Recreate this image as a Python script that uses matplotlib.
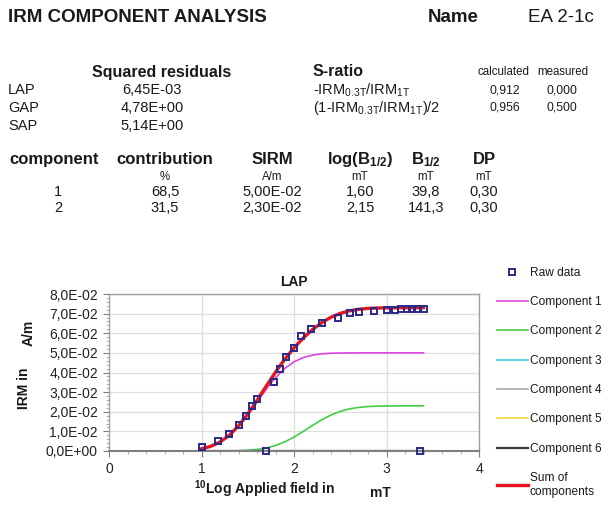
import matplotlib
matplotlib.use("Agg")
import matplotlib.pyplot as plt
from matplotlib.ticker import FixedLocator, MultipleLocator

plt.rcParams['font.family'] = ['Liberation Sans', 'DejaVu Sans']
plt.rcParams['mathtext.fontset'] = 'custom'
plt.rcParams['mathtext.rm'] = 'Liberation Sans'
plt.rcParams['mathtext.bf'] = 'Liberation Sans:bold'
plt.rcParams['mathtext.it'] = 'Liberation Sans:italic'
plt.rcParams['text.color'] = '#1a1a1a'

# ---------------- data ----------------
sample_name = "EA 2-1c"
residual_names = ["LAP", "GAP", "SAP"]
residual_values = ["6,45E-03", "4,78E+00", "5,14E+00"]
sratio_labels = [r"-IRM$_\mathrm{0.3T}$/IRM$_\mathrm{1T}$",
                 r"(1-IRM$_\mathrm{0.3T}$/IRM$_\mathrm{1T}$)/2"]
sratio_calculated = ["0,912", "0,956"]
sratio_measured = ["0,000", "0,500"]

table_headers = ["component", "contribution", "SIRM", r"log(B$_\mathbf{1/2}$)",
                 r"B$_\mathbf{1/2}$", "DP"]
table_units = ["", "%", "A/m", "mT", "mT", "mT"]
component_ids = ["1", "2"]
contribution = ["68,5", "31,5"]
sirm = ["5,00E-02", "2,30E-02"]
log_b_half = ["1,60", "2,15"]
b_half = ["39,8", "141,3"]
dp = ["0,30", "0,30"]

raw_x = [1.00, 1.18, 1.30, 1.40, 1.48, 1.55, 1.60, 1.70, 1.78, 1.85, 1.91, 2.00,
         2.08, 2.18, 2.30, 2.48, 2.60, 2.70, 2.87, 3.00, 3.09, 3.16, 3.22, 3.28,
         3.33, 3.40, 3.36]
raw_y = [0.0022, 0.0051, 0.0086, 0.0130, 0.0180, 0.0227, 0.0265, 0.0, 0.0352,
         0.0420, 0.0480, 0.0523, 0.0584, 0.0620, 0.0650, 0.0680, 0.0701, 0.0709,
         0.0714, 0.0718, 0.0720, 0.0722, 0.0723, 0.0723, 0.0723, 0.0724, 0.0]

field_log = [1.0, 1.1, 1.2, 1.3, 1.4, 1.5, 1.6, 1.7, 1.8, 1.9, 2.0, 2.1, 2.2,
             2.3, 2.4, 2.5, 2.6, 2.7, 2.8, 2.9, 3.0, 3.1, 3.2, 3.3, 3.4]
component1 = [0.00114, 0.00239, 0.00456, 0.00794, 0.01263, 0.01847, 0.02500,
              0.03153, 0.03737, 0.04206, 0.04544, 0.04761, 0.04886, 0.04951,
              0.04981, 0.04993, 0.04998, 0.04999, 0.05, 0.05, 0.05, 0.05, 0.05,
              0.05, 0.05]
component2 = [0.0, 0.000003, 0.00002, 0.00005, 0.00014, 0.00035, 0.00077,
              0.00154, 0.00280, 0.00465, 0.00710, 0.00998, 0.01302, 0.01590,
              0.01835, 0.02020, 0.02146, 0.02223, 0.02265, 0.02286, 0.02295,
              0.02298, 0.023, 0.023, 0.023]
component_sum = [0.00114, 0.00239, 0.00458, 0.00799, 0.01277, 0.01882, 0.02577,
                 0.03307, 0.04017, 0.04671, 0.05254, 0.05759, 0.06188, 0.06541,
                 0.06816, 0.07013, 0.07144, 0.07223, 0.07265, 0.07286, 0.07295,
                 0.07298, 0.073, 0.073, 0.073]
zero_x = [1.0, 3.4]
component3 = [0.0, 0.0]
component4 = [0.0, 0.0]
component5 = [0.0, 0.0]
component6 = [0.0, 0.0]

x_ticks = [0, 1, 2, 3, 4]
y_ticks = [0.0, 0.01, 0.02, 0.03, 0.04, 0.05, 0.06, 0.07, 0.08]
y_tick_labels = ["0,0E+00", "1,0E-02", "2,0E-02", "3,0E-02", "4,0E-02",
                 "5,0E-02", "6,0E-02", "7,0E-02", "8,0E-02"]

# ---------------- figure ----------------
W, H = 616, 509
fig = plt.figure(figsize=(W / 100, H / 100), dpi=100)
fig.patch.set_facecolor('white')


def T(x, y, s, **kw):
    kw.setdefault('va', 'center')
    fig.text(x / W, 1 - y / H, s, **kw)


T(8, 18, "IRM COMPONENT ANALYSIS", fontsize=13.5, fontweight='bold')
T(428, 18, "Name", fontsize=13.5, fontweight='bold')
T(528, 18, sample_name, fontsize=13.5)

T(92, 72, "Squared residuals", fontsize=11.5, fontweight='bold')
for i, (n, v) in enumerate(zip(residual_names, residual_values)):
    T(8, 90 + 18 * i, n, fontsize=10.5)
    T(152, 90 + 18 * i, v, fontsize=10.5, ha='center')

T(313, 72, "S-ratio", fontsize=11.5, fontweight='bold')
T(503, 72, "calculated", fontsize=8.3, ha='center')
T(563, 72, "measured", fontsize=8.3, ha='center')
for i, (lab, c, m) in enumerate(zip(sratio_labels, sratio_calculated, sratio_measured)):
    T(313, 90 + 18 * i, lab, fontsize=10.5)
    T(505, 90 + 18 * i, c, fontsize=8.8, ha='center')
    T(562, 90 + 18 * i, m, fontsize=8.8, ha='center')

col_x = [54, 165, 272, 360, 426, 484]
for cx, h in zip(col_x, table_headers):
    T(cx, 160, h, fontsize=12, fontweight='bold', ha='center')
for cx, u in zip(col_x, table_units):
    T(cx, 177, u, fontsize=8.3, ha='center')
rows = list(zip(component_ids, contribution, sirm, log_b_half, b_half, dp))
for r, row in enumerate(rows):
    for cx, v in zip(col_x, row):
        T(cx if cx != 54 else 58, 192 + 16 * r, v, fontsize=10.5, ha='center')

# ---------------- chart ----------------
ax = fig.add_axes([109 / W, 1 - 451 / H, (479 - 109) / W, (451 - 294) / H])
ax.set_xlim(0, 4)
ax.set_ylim(0, 0.08)
ax.xaxis.set_major_locator(FixedLocator(x_ticks))
ax.yaxis.set_major_locator(FixedLocator(y_ticks))
ax.set_yticklabels(y_tick_labels)
ax.xaxis.set_minor_locator(MultipleLocator(0.2))
ax.yaxis.set_minor_locator(MultipleLocator(0.002))
ax.grid(True, which='major', color='#dedede', linewidth=0.9)
ax.set_axisbelow(True)
for s in ax.spines.values():
    s.set_color('#a0a0a0')
    s.set_linewidth(1.0)
ax.spines['bottom'].set_color('#808080')
ax.spines['bottom'].set_linewidth(1.5)
ax.tick_params(which='major', length=4, color='#808080', labelsize=10, pad=4,
               labelcolor='#222222')
ax.tick_params(which='minor', length=2, color='#a0a0a0')

l1, = ax.plot(field_log, component1, color='#dd44dd', lw=1.2, label='Component 1')
l2, = ax.plot(field_log, component2, color='#44cc44', lw=1.2, label='Component 2')
l3, = ax.plot(zero_x, component3, color='#44ccdd', lw=1.2, label='Component 3')
l4, = ax.plot(zero_x, component4, color='#aaaaaa', lw=1.2, label='Component 4')
l5, = ax.plot(zero_x, component5, color='#eedd33', lw=1.2, label='Component 5')
l6, = ax.plot(zero_x, component6, color='#3a3a3a', lw=1.6, label='Component 6')
ls, = ax.plot(field_log, component_sum, color='#e8141c', lw=2.4, label='Sum of\ncomponents')
pr, = ax.plot(raw_x, raw_y, ls='none', marker='s', ms=4.8, mfc='none',
              mec='#2a2a88', mew=1.4, label='Raw data', clip_on=False, zorder=5)

ax.set_title("LAP", fontsize=10, fontweight='bold', pad=6)
T(24, 388, "IRM in", fontsize=10, fontweight='bold', rotation=90, ha='center')
T(29, 333, "A/m", fontsize=10, fontweight='bold', rotation=90, ha='center')
T(265, 489, r"$^\mathbf{10}$Log Applied field in", fontsize=10, fontweight='bold', ha='center')
T(380, 493, "mT", fontsize=10, fontweight='bold', ha='center')

leg = fig.legend(handles=[pr, l1, l2, l3, l4, l5, l6, ls],
                 loc='upper left', bbox_to_anchor=(492 / W, 1 - 262 / H),
                 frameon=False, fontsize=8.6, handlelength=2.6,
                 handletextpad=0.15, labelspacing=1.45, borderaxespad=0)

fig.savefig("out.png", dpi=100, facecolor='white')
